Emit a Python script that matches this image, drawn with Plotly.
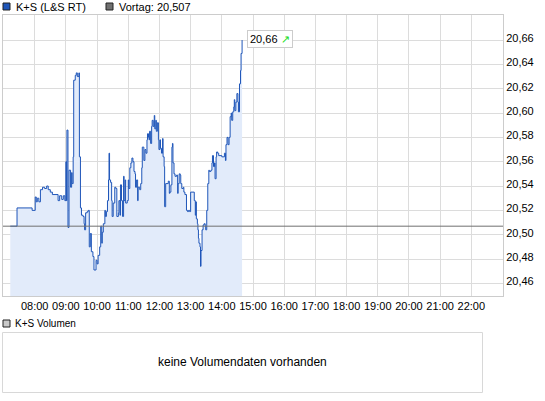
import plotly.graph_objects as go

W, H = 545, 401
day = "2010-01-01 "

times = ["07:13", "07:26", "07:55", "08:01", "08:03", "08:05", "08:08", "08:11", "08:15", "08:19",
         "08:23", "08:26", "08:30", "08:34", "08:45", "08:48", "08:52", "08:55", "08:58", "09:00",
         "09:01", "09:02", "09:04", "09:06", "09:09", "09:11", "09:12", "09:14", "09:15", "09:18",
         "09:20", "09:22", "09:25", "09:26", "09:28", "09:30", "09:33", "09:35", "09:36", "09:38",
         "09:41", "09:43", "09:45", "09:47", "09:49", "09:52", "09:54", "09:58", "10:00", "10:02",
         "10:05", "10:07", "10:09", "10:10", "10:12", "10:15", "10:16", "10:18", "10:20", "10:22",
         "10:23", "10:24", "10:26", "10:28", "10:29", "10:31", "10:34", "10:36", "10:38", "10:41",
         "10:42", "10:44", "10:45", "10:47", "10:49", "10:51", "10:52", "10:54", "10:55", "10:58",
         "11:00", "11:01", "11:03", "11:05", "11:07", "11:09", "11:11", "11:13", "11:14", "11:16",
         "11:18", "11:19", "11:22", "11:24", "11:26", "11:27", "11:30", "11:32", "11:34", "11:36",
         "11:37", "11:39", "11:40", "11:41", "11:43", "11:45", "11:46", "11:48", "11:50", "11:51",
         "11:53", "11:54", "11:56", "11:58", "11:59", "12:01", "12:02", "12:04", "12:06", "12:07",
         "12:09", "12:10", "12:12", "12:17", "12:19", "12:20", "12:22", "12:24", "12:25", "12:26",
         "12:28", "12:30", "12:33", "12:35", "12:36", "12:38", "12:40", "12:41", "12:43", "12:46",
         "12:47", "12:49", "12:52", "12:54", "12:56", "12:58", "13:00", "13:07", "13:09", "13:10",
         "13:11", "13:13", "13:14", "13:15", "13:16", "13:18", "13:19", "13:20", "13:22", "13:24",
         "13:26", "13:28", "13:29", "13:31", "13:33", "13:35", "13:36", "13:39", "13:41", "13:42",
         "13:44", "13:46", "13:47", "13:49", "13:50", "13:52", "13:54", "14:00", "14:05", "14:07",
         "14:08", "14:10", "14:12", "14:14", "14:16", "14:18", "14:19", "14:21", "14:23", "14:24",
         "14:25", "14:27", "14:29", "14:31", "14:32", "14:34", "14:36", "14:37", "14:39"]

prices = [20.507, 20.522, 20.520, 20.531, 20.527, 20.530, 20.527, 20.537, 20.539, 20.538,
          20.540, 20.537, 20.535, 20.533, 20.528, 20.532, 20.529, 20.532, 20.528, 20.560,
          20.528, 20.586, 20.506, 20.553, 20.539, 20.551, 20.542, 20.564, 20.627, 20.631,
          20.633, 20.630, 20.633, 20.564, 20.522, 20.516, 20.515, 20.509, 20.504, 20.518,
          20.519, 20.520, 20.490, 20.501, 20.486, 20.482, 20.471, 20.479, 20.476, 20.483,
          20.490, 20.507, 20.493, 20.502, 20.509, 20.520, 20.515, 20.519, 20.528, 20.545,
          20.567, 20.545, 20.543, 20.528, 20.515, 20.526, 20.539, 20.538, 20.515, 20.518,
          20.528, 20.516, 20.541, 20.528, 20.515, 20.548, 20.528, 20.545, 20.526, 20.528,
          20.545, 20.538, 20.555, 20.559, 20.563, 20.560, 20.552, 20.550, 20.539, 20.545,
          20.528, 20.539, 20.537, 20.542, 20.555, 20.572, 20.561, 20.570, 20.567, 20.578,
          20.583, 20.580, 20.578, 20.585, 20.575, 20.589, 20.594, 20.589, 20.598, 20.587,
          20.594, 20.585, 20.592, 20.578, 20.570, 20.578, 20.571, 20.567, 20.579, 20.564,
          20.556, 20.523, 20.542, 20.544, 20.534, 20.535, 20.541, 20.572, 20.575, 20.559,
          20.550, 20.548, 20.549, 20.534, 20.542, 20.550, 20.549, 20.542, 20.538, 20.539,
          20.535, 20.533, 20.520, 20.519, 20.520, 20.519, 20.535, 20.528, 20.516, 20.527,
          20.513, 20.509, 20.504, 20.497, 20.493, 20.490, 20.474, 20.487, 20.504, 20.508,
          20.509, 20.507, 20.504, 20.520, 20.542, 20.553, 20.552, 20.553, 20.559, 20.565,
          20.556, 20.559, 20.546, 20.564, 20.568, 20.567, 20.565, 20.564, 20.567, 20.561,
          20.574, 20.580, 20.574, 20.580, 20.597, 20.600, 20.594, 20.601, 20.605, 20.611,
          20.602, 20.609, 20.616, 20.609, 20.601, 20.624, 20.635, 20.649, 20.660]

prev_close = 20.507
hour_labels = ["08:00", "09:00", "10:00", "11:00", "12:00", "13:00", "14:00", "15:00",
               "16:00", "17:00", "18:00", "19:00", "20:00", "21:00", "22:00"]
price_ticks = [20.46, 20.48, 20.50, 20.52, 20.54, 20.56, 20.58, 20.60, 20.62, 20.64, 20.66]


def px(x):
    return x / W


def py(y):
    return 1 - y / H


FONT = "Liberation Sans, Arial, sans-serif"
BLUE = "#1f56b9"

fig = go.Figure()
fig.add_trace(go.Scatter(
    x=[day + t for t in times], y=prices,
    mode="lines", line=dict(color=BLUE, width=1, shape="hv"),
    fill="tozeroy", fillcolor="#e2ebfa", hoverinfo="skip"))

# Vortag line
fig.add_shape(type="line", xref="paper", yref="y", x0=px(3), x1=px(503),
              y0=prev_close, y1=prev_close, line=dict(color="#707070", width=1), layer="above")

# last price box
fig.add_annotation(x=day + times[-1], y=prices[-1], xref="x", yref="y",
                   text=f"{prices[-1]:.2f}".replace(".", ",") + " <span style='color:#22dd22'>&#8599;</span>",
                   showarrow=False, xanchor="left", xshift=5, yshift=1,
                   bgcolor="white", bordercolor="#cccccc", borderwidth=1, borderpad=2,
                   font=dict(family=FONT, size=11, color="#000000"))

# legend squares / texts (top)
def square(x, y, color):
    fig.add_shape(type="rect", xref="paper", yref="paper",
                  x0=px(x), x1=px(x + 7), y0=py(y + 7), y1=py(y),
                  fillcolor=color, line=dict(color="#222222", width=1))


def label(x, y, text, size=11, anchor="left"):
    fig.add_annotation(x=px(x), y=py(y), xref="paper", yref="paper", text=text,
                       showarrow=False, xanchor=anchor, yanchor="middle",
                       font=dict(family=FONT, size=size, color="#000000"))


square(3, 3, BLUE)
label(14, 7, "K+S (L&S RT)")
square(106, 3, "#707070")
label(117, 7, "Vortag: " + f"{prev_close:.3f}".replace(".", ","))

# volume panel
square(3, 320, "#c8c8c8")
label(13, 323.5, "K+S Volumen", size=10)
fig.add_shape(type="rect", xref="paper", yref="paper",
              x0=px(2.5), x1=px(482.5), y0=py(392.5), y1=py(332.5),
              line=dict(color="#d8d8d8", width=1), fillcolor="white")
label(242.5, 361.5, "keine Volumendaten vorhanden", size=12, anchor="center")

fig.update_layout(
    width=W, height=H, margin=dict(l=0, r=0, t=0, b=0),
    paper_bgcolor="white", plot_bgcolor="white",
    showlegend=False, separators=",.",
    font=dict(family=FONT, size=11, color="#000000"),
    xaxis=dict(domain=[px(3), px(503)], type="date",
               range=[day + "06:59", day + "23:01"],
               tickvals=[day + h for h in hour_labels], ticktext=hour_labels,
               showgrid=True, gridcolor="#dcdcdc", gridwidth=1,
               showline=True, mirror=True, linecolor="#cccccc", linewidth=1,
               ticks="", zeroline=False, fixedrange=True),
    yaxis=dict(domain=[py(296), py(15)], side="right",
               range=[20.4496, 20.6806],
               tickvals=price_ticks, tickformat=".2f", ticklabelshift=-2,
               showgrid=True, gridcolor="#dcdcdc", gridwidth=1,
               showline=True, mirror=True, linecolor="#cccccc", linewidth=1,
               ticks="", zeroline=False, fixedrange=True),
)

fig.write_html("out.html", config={"displayModeBar": False},
               post_script="document.body.style.margin='0';")
